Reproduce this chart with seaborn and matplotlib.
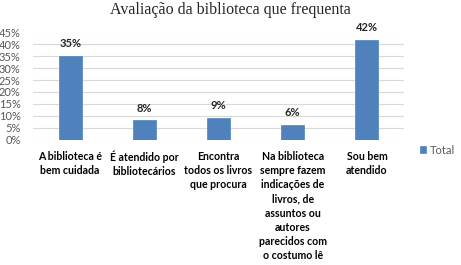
import pandas as pd
import matplotlib
matplotlib.use("Agg")
import matplotlib.pyplot as plt
import seaborn as sns

categorias = [
    "A biblioteca é\nbem cuidada",
    "É atendido por\nbibliotecários",
    "Encontra\ntodos os livros\nque procura",
    "Na biblioteca\nsempre fazem\nindicações de\nlivros, de\nassuntos ou\nautores\nparecidos com\no costumo lê",
    "Sou bem\natendido",
]
valores = [0.35, 0.08, 0.09, 0.06, 0.42]
rotulos = ["35%", "8%", "9%", "6%", "42%"]
yticks = [0, 0.05, 0.10, 0.15, 0.20, 0.25, 0.30, 0.35, 0.40, 0.45]

df = pd.DataFrame({"cat": categorias, "valor": valores})

sns.set_style("white")
plt.rcParams['font.family'] = ['Lato', 'DejaVu Sans']

fig = plt.figure(figsize=(4.61, 2.65), dpi=100)
ax = fig.add_axes([33/461, 1 - 139.5/265, (404-33)/461, (139.5-32.5)/265])

sns.barplot(data=df, x="cat", y="valor", color="#4F81BD", saturation=1, width=0.31,
            edgecolor="#5b8cc6", linewidth=0.6, label="Total", ax=ax, zorder=3)

ax.set_ylim(0, 0.45)
ax.set_xlim(-0.5, 4.5)
ax.set_yticks(yticks)
ax.set_yticklabels([f"{int(round(v*100))}%" for v in yticks], fontsize=8, color="#595959")
ax.grid(axis="y", color="#d9d9d9", linewidth=0.8, zorder=0)
for s in ax.spines.values():
    s.set_visible(False)
ax.tick_params(axis="y", length=0, pad=9)
ax.tick_params(axis="x", length=0, pad=8)
ax.set_xticks(range(len(categorias)))
ax.set_xticklabels(categorias, fontsize=7.6, fontweight="bold", color="black",
                   linespacing=1.36, va="top")
ax.set_xlabel("")
ax.set_ylabel("")

for i, (v, t) in enumerate(zip(valores, rotulos)):
    ax.annotate(t, (i, v), xytext=(0, 5), textcoords="offset points",
                ha="center", va="bottom", fontsize=8, fontweight="bold")

fig.text(0.5, 1 - 10/265, "Avaliação da biblioteca que frequenta",
         ha="center", va="center", fontsize=11.5, family="Liberation Serif")

leg = ax.legend(loc="center left", bbox_to_anchor=(420/461, 1 - 150/265),
                bbox_transform=fig.transFigure, frameon=False, fontsize=8,
                handlelength=0.55, handleheight=0.55, handletextpad=0.3,
                borderpad=0, borderaxespad=0)
for t in leg.get_texts():
    t.set_color("#595959")

fig.savefig("out.png", dpi=100)
